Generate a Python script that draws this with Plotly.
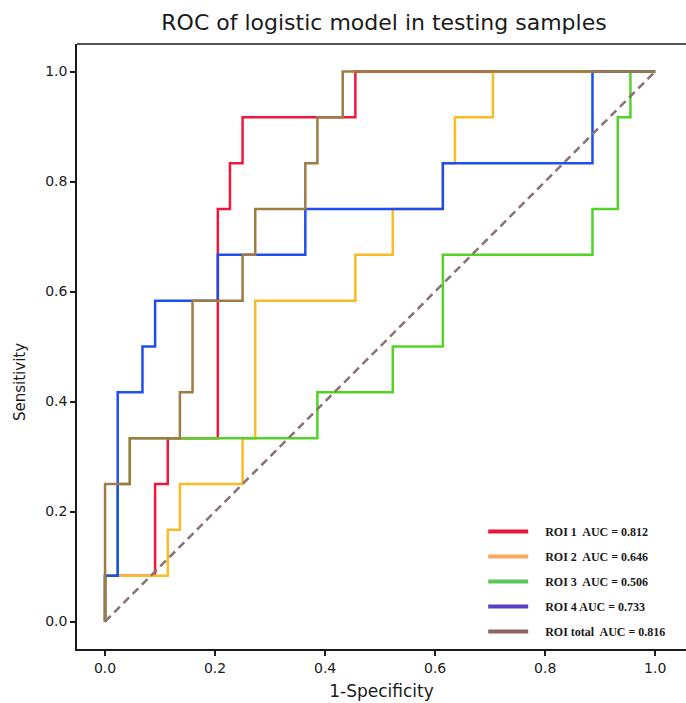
import plotly.graph_objects as go

# ROC points (1-Specificity, Sensitivity)
roi1_fpr = [0, 0, 0.091, 0.091, 0.114, 0.114, 0.205, 0.205, 0.227, 0.227, 0.25, 0.25, 0.455, 0.455, 1.0]
roi1_tpr = [0, 0.083, 0.083, 0.25, 0.25, 0.333, 0.333, 0.75, 0.75, 0.833, 0.833, 0.917, 0.917, 1.0, 1.0]

roi2_fpr = [0, 0, 0.114, 0.114, 0.136, 0.136, 0.25, 0.25, 0.273, 0.273, 0.455, 0.455, 0.523, 0.523,
            0.614, 0.614, 0.636, 0.636, 0.705, 0.705, 1.0]
roi2_tpr = [0, 0.083, 0.083, 0.167, 0.167, 0.25, 0.25, 0.333, 0.333, 0.583, 0.583, 0.667, 0.667, 0.75,
            0.75, 0.833, 0.833, 0.917, 0.917, 1.0, 1.0]

roi3_fpr = [0, 0, 0.023, 0.023, 0.045, 0.045, 0.386, 0.386, 0.523, 0.523, 0.614, 0.614, 0.886, 0.886,
            0.932, 0.932, 0.955, 0.955, 1.0]
roi3_tpr = [0, 0.083, 0.083, 0.25, 0.25, 0.333, 0.333, 0.417, 0.417, 0.5, 0.5, 0.667, 0.667, 0.75,
            0.75, 0.917, 0.917, 1.0, 1.0]

roi4_fpr = [0, 0, 0.023, 0.023, 0.068, 0.068, 0.091, 0.091, 0.205, 0.205, 0.364, 0.364, 0.614, 0.614,
            0.886, 0.886, 1.0]
roi4_tpr = [0, 0.083, 0.083, 0.417, 0.417, 0.5, 0.5, 0.583, 0.583, 0.667, 0.667, 0.75, 0.75, 0.833,
            0.833, 1.0, 1.0]

total_fpr = [0, 0, 0.045, 0.045, 0.136, 0.136, 0.159, 0.159, 0.25, 0.25, 0.273, 0.273, 0.364, 0.364,
             0.386, 0.386, 0.432, 0.432, 1.0]
total_tpr = [0, 0.25, 0.25, 0.333, 0.333, 0.417, 0.417, 0.583, 0.583, 0.667, 0.667, 0.75, 0.75, 0.833,
             0.833, 0.917, 0.917, 1.0, 1.0]

chance_x = [0, 1]
chance_y = [0, 1]

legend_labels = ["ROI 1  AUC = 0.812", "ROI 2  AUC = 0.646", "ROI 3  AUC = 0.506",
                 "ROI 4 AUC = 0.733", "ROI total  AUC = 0.816"]
tick_vals = [0.0, 0.2, 0.4, 0.6, 0.8, 1.0]

curve_colors = ["#F0183A", "#F8BC28", "#52D326", "#1E4EF0", "#9E7A44"]
legend_colors = ["#E8143C", "#F5A85E", "#58C858", "#5A3EC8", "#8C6464"]

fig = go.Figure()
series = [(roi1_fpr, roi1_tpr), (roi2_fpr, roi2_tpr), (roi3_fpr, roi3_tpr),
          (roi4_fpr, roi4_tpr), (total_fpr, total_tpr)]
for (fx, ty), col in zip(series, curve_colors):
    fig.add_trace(go.Scatter(x=fx, y=ty, mode="lines", line=dict(color=col, width=2.5),
                             showlegend=False, hoverinfo="skip"))

fig.add_trace(go.Scatter(x=chance_x, y=chance_y, mode="lines",
                         line=dict(color="#8A7272", width=2.5, dash="8px,5px"),
                         showlegend=False, hoverinfo="skip"))

pad = "\u00a0" * 4
for i, (lab, col) in enumerate(zip(legend_labels, legend_colors)):
    fig.add_trace(go.Scatter(x=[None], y=[None], mode="lines", name=pad + "<b>" + lab + "</b>",
                             line=dict(color=col, width=4), legendgroup="g%d" % i))

axis_common = dict(
    showline=True, linecolor="#1a1a1a", linewidth=1.5,
    ticks="outside", ticklen=5, tickwidth=1.5, tickcolor="#1a1a1a",
    tickvals=tick_vals, tickformat=".1f",
    tickfont=dict(family="DejaVu Sans", size=14, color="#1a1a1a"),
    showgrid=False, zeroline=False,
)

fig.update_layout(
    width=686, height=703,
    margin=dict(l=77, r=0, t=44, b=54),
    paper_bgcolor="white", plot_bgcolor="white",
    title=dict(text="ROC of logistic model in testing samples",
               font=dict(family="DejaVu Sans", size=22, color="#1a1a1a"),
               xref="container", x=384 / 686, xanchor="center",
               yref="container", y=1 - 22 / 703, yanchor="middle"),
    xaxis=dict(range=[-0.051, 1.056], mirror=False,
               title=dict(text="1-Specificity", standoff=11,
                          font=dict(family="DejaVu Sans", size=17, color="#1a1a1a")),
               **axis_common),
    yaxis=dict(range=[-0.05, 1.05], **axis_common),
    legend=dict(x=0.667, y=0.218, xanchor="left", yanchor="top",
                font=dict(family="Liberation Serif", size=12, color="#1a1a1a"),
                bgcolor="rgba(255,255,255,0)", tracegroupgap=6, itemwidth=40),
    showlegend=True,
)

# y-axis title placed as in the reference
fig.add_annotation(text="Sensitivity", textangle=-90, showarrow=False,
                   xref="paper", yref="paper",
                   x=(20 - 77) / 609, y=(649 - 382) / 605,
                   xanchor="center", yanchor="middle",
                   font=dict(family="DejaVu Sans", size=15, color="#1a1a1a"))

# top spine
fig.add_shape(type="line", xref="paper", yref="paper", x0=0, x1=1, y0=1, y1=1,
              line=dict(color="#1a1a1a", width=1.5))

fig.write_html("out.html")
